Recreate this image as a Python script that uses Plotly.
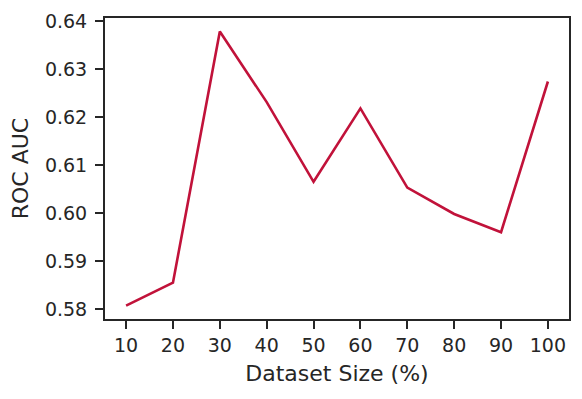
import plotly.graph_objects as go

dataset_size = [10, 20, 30, 40, 50, 60, 70, 80, 90, 100]
roc_auc = [0.5807, 0.5855, 0.6378, 0.6231, 0.6065, 0.6218, 0.6053, 0.5998, 0.5960, 0.6274]
x_ticks = [10, 20, 30, 40, 50, 60, 70, 80, 90, 100]
y_ticks = [0.58, 0.59, 0.60, 0.61, 0.62, 0.63, 0.64]

axis_color = "#262626"
tick_font = dict(family="DejaVu Sans", size=19, color=axis_color)
title_font = dict(family="DejaVu Sans", size=22, color=axis_color)

fig = go.Figure()
fig.add_trace(go.Scatter(
    x=dataset_size, y=roc_auc, mode="lines",
    line=dict(color="#c1123a", width=2.6),
    showlegend=False,
))

# page body has an 8px default margin, so the figure is sized to fit inside it
fig.update_layout(
    width=574, height=391,
    margin=dict(l=97, r=13, t=10, b=80),
    paper_bgcolor="white", plot_bgcolor="white",
    font=tick_font,
)
fig.update_xaxes(
    range=[5.5, 104.5], tickvals=x_ticks, ticktext=[str(v) for v in x_ticks],
    showline=True, linecolor=axis_color, linewidth=2, mirror=True,
    ticks="outside", ticklen=8, tickwidth=2, tickcolor=axis_color,
    showgrid=False, zeroline=False, automargin=False,
    title=dict(text="Dataset Size (%)", font=title_font, standoff=11),
    tickfont=tick_font,
)
fig.update_yaxes(
    range=[0.57792, 0.64063], tickvals=y_ticks, ticktext=[f"{v:.2f}" for v in y_ticks],
    showline=True, linecolor=axis_color, linewidth=2, mirror=True,
    ticks="outside", ticklen=8, tickwidth=2, tickcolor=axis_color,
    showgrid=False, zeroline=False, automargin=False, ticklabelstandoff=4,
    title=dict(text="ROC AUC", font=title_font, standoff=10),
    tickfont=tick_font,
)

fig.write_html("out.html")
